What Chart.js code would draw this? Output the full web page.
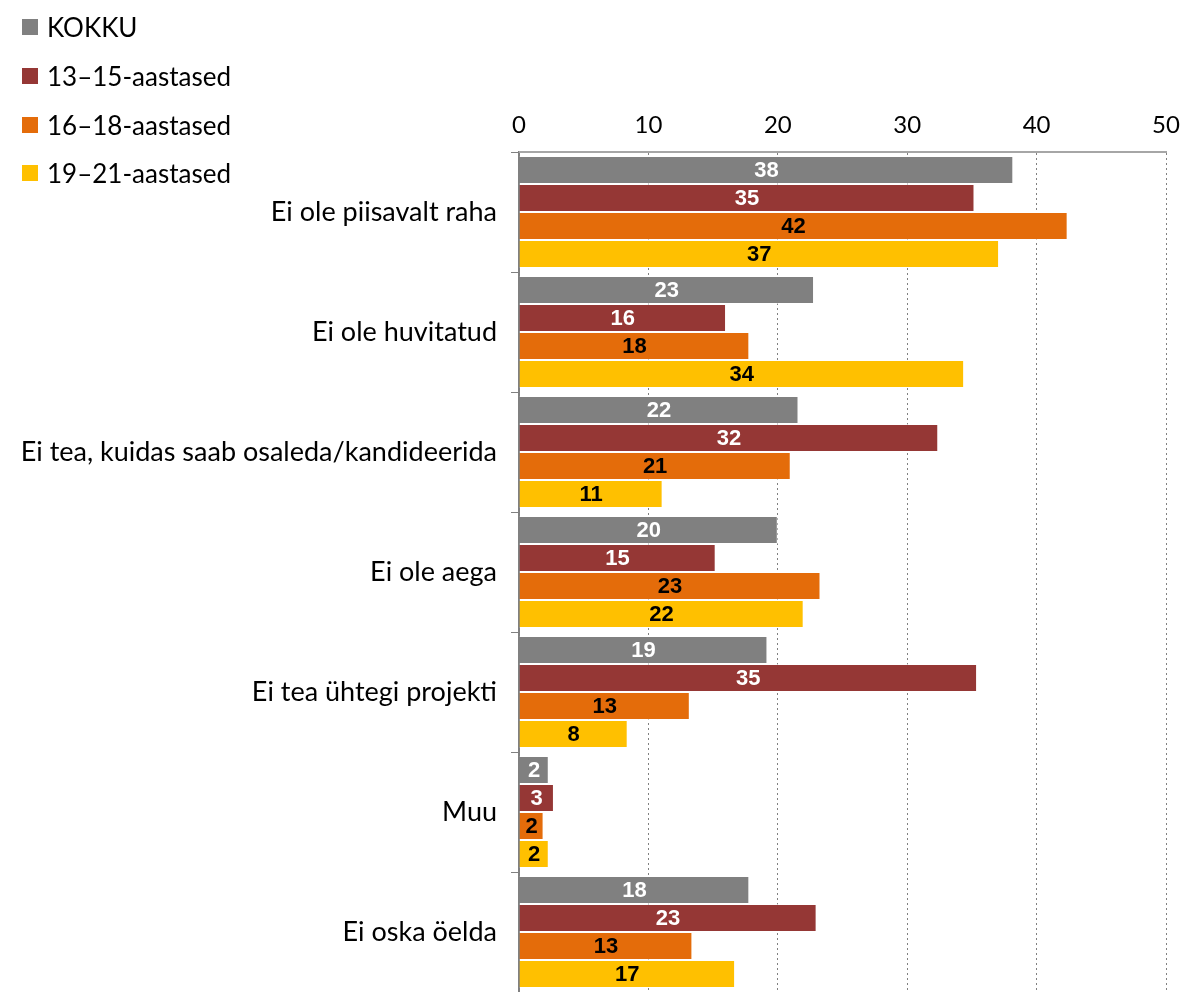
<!DOCTYPE html>
<html>
<head>
<meta charset="utf-8">
<script src="https://cdn.jsdelivr.net/npm/chart.js@4"></script>
<style>
  html, body { margin: 0; padding: 0; background: #fff; }
  #wrap { position: relative; width: 1182px; height: 992px; }
  #legend { position: absolute; left: 22px; top: 0; font-family: Lato, sans-serif; font-size: 26px; color: #000; }
  #legend .row { position: absolute; left: 0; height: 32px; display: flex; align-items: center; white-space: nowrap; }
  #legend .box { width: 16px; height: 16px; margin-right: 9px; }
</style>
</head>
<body>
<div id="wrap">
  <canvas id="chart" width="1182" height="992"></canvas>
  <div id="legend"></div>
</div>
<script>
// Categories (top to bottom)
const categories = [
  'Ei ole piisavalt raha',
  'Ei ole huvitatud',
  'Ei tea, kuidas saab osaleda/kandideerida',
  'Ei ole aega',
  'Ei tea ühtegi projekti',
  'Muu',
  'Ei oska öelda'
];

// Series values (percent)
const kokku = [38.2, 22.8, 21.6, 20.0, 19.2, 2.3, 17.8];
const age13to15 = [35.2, 16.0, 32.4, 15.2, 35.4, 2.7, 23.0];
const age16to18 = [42.4, 17.8, 21.0, 23.3, 13.2, 1.9, 13.4];
const age19to21 = [37.1, 34.4, 11.1, 22.0, 8.4, 2.3, 16.7];

const seriesNames = ['KOKKU', '13–15-aastased', '16–18-aastased', '19–21-aastased'];
const seriesColors = ['#808080', '#953735', '#E46C0A', '#FFC000'];
const labelColors = ['#ffffff', '#ffffff', '#000000', '#000000'];

// X axis ticks
const xMin = 0;
const xMax = 50;
const xStep = 10;

const FONT = 'Lato, sans-serif';

// Draw rounded value labels centred in each bar
const barLabels = {
  id: 'barLabels',
  afterDatasetsDraw(chart) {
    const ctx = chart.ctx;
    ctx.save();
    ctx.font = 'bold 22px "Liberation Sans", Arial, sans-serif';
    ctx.textAlign = 'center';
    ctx.textBaseline = 'middle';
    chart.data.datasets.forEach((ds, i) => {
      const meta = chart.getDatasetMeta(i);
      meta.data.forEach((bar, j) => {
        const cx = (bar.x + bar.base) / 2;
        ctx.fillStyle = labelColors[i];
        ctx.fillText(String(Math.round(ds.data[j])), cx, bar.y + 1);
      });
    });
    ctx.restore();
  }
};

const allSeries = [kokku, age13to15, age16to18, age19to21];

new Chart(document.getElementById('chart'), {
  type: 'bar',
  data: {
    labels: categories,
    datasets: allSeries.map((vals, i) => ({
      label: seriesNames[i],
      data: vals,
      backgroundColor: seriesColors[i],
      borderColor: 'rgba(255,255,255,0.6)',
      borderWidth: 1,
      categoryPercentage: 0.935,
      barPercentage: 1.0
    }))
  },
  options: {
    indexAxis: 'y',
    responsive: false,
    animation: false,
    layout: { padding: { left: 0, right: 16, top: 0, bottom: 0 } },
    plugins: {
      legend: { display: false },
      tooltip: { enabled: false }
    },
    scales: {
      x: {
        position: 'top',
        min: xMin,
        max: xMax,
        ticks: {
          stepSize: xStep,
          color: '#000',
          font: { family: FONT, size: 24 },
          padding: 12
        },
        grid: {
          color: '#808080',
          lineWidth: 1,
          drawTicks: false
        },
        border: { display: true, color: '#a6a6a6', width: 2, dash: [2, 3] },
        afterFit(scale) {
          scale.height = 152;
          scale.paddingLeft = 0;
          scale.paddingRight = 0;
        }
      },
      y: {
        ticks: {
          color: '#000',
          font: { family: FONT, size: 27 },
          padding: 14
        },
        grid: {
          drawOnChartArea: false,
          color: '#808080',
          tickLength: 8,
          offset: true
        },
        border: { display: true, color: '#808080', width: 2 },
        afterFit(scale) {
          scale.width = 519;
          scale.paddingTop = 0;
          scale.paddingBottom = 0;
        }
      }
    }
  },
  plugins: [barLabels, {
    id: 'topLine',
    afterDraw(chart) {
      const { ctx, chartArea } = chart;
      ctx.save();
      ctx.strokeStyle = '#a6a6a6';
      ctx.lineWidth = 2;
      ctx.beginPath();
      ctx.moveTo(chartArea.left, chartArea.top);
      ctx.lineTo(chartArea.right, chartArea.top);
      ctx.stroke();
      ctx.restore();
    }
  }]
});

// HTML legend built from the series arrays
const legendEl = document.getElementById('legend');
const legendRowCenters = [27, 76, 125, 173];
seriesNames.forEach((name, i) => {
  const row = document.createElement('div');
  row.className = 'row';
  row.style.top = (legendRowCenters[i] - 16) + 'px';
  row.innerHTML = '<span class="box" style="background:' + seriesColors[i] + '"></span>' + name;
  legendEl.appendChild(row);
});
</script>
</body>
</html>
